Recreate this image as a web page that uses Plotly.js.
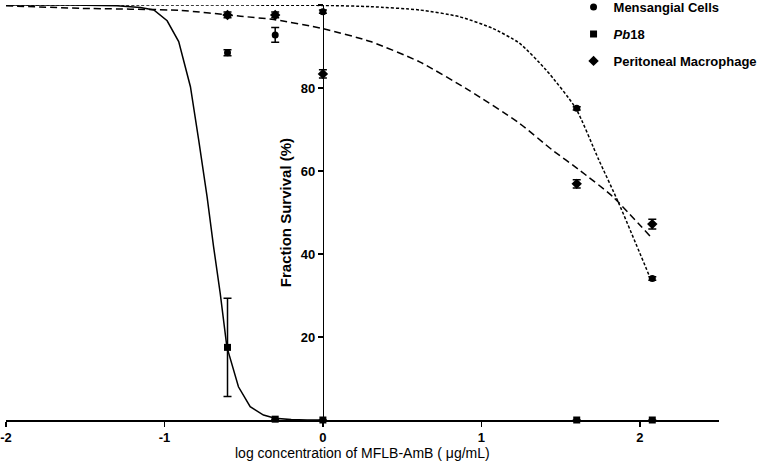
<!DOCTYPE html>
<html>
<head>
<meta charset="utf-8">
<script src="https://cdn.plot.ly/plotly-3.0.1.min.js"></script>
<style>html,body{margin:0;padding:0;background:#fff;}#chart{width:762px;height:463px;}</style>
</head>
<body>
<div id="chart"></div>
<script>
// Measured points (log10 concentration, µg/mL)
const logConc = [-0.602, -0.301, 0, 1.602, 2.079];
const mensangial = [88.5, 92.8, 98.4, 75.1, 34.1];
const mensangialErr = [0.7, 1.8, 0.4, 0.4, 0.4];
const pb18 = [17.5, 0.2, 0, 0, 0];
const pb18Err = [11.85, 0, 0, 0, 0];
const macrophage = [97.6, 97.6, 83.4, 56.9, 47.2];
const macrophageErr = [0.7, 0.7, 1.0, 1.0, 1.2];

// Fitted curves
const pbFitX = [-2, -1.6, -1.3, -1.151, -1.067, -0.983, -0.910, -0.836, -0.784, -0.731, -0.690, -0.648, -0.606, -0.533, -0.459, -0.375, -0.302, -0.2, -0.1, 0];
const pbFitY = [100, 100, 99.8, 99.4, 98.8, 96.2, 91.2, 80.3, 67.5, 53.8, 41.8, 30.5, 17.6, 8.0, 3.2, 1.2, 0.4, 0.1, 0, 0];
const mensFitX = [-2, -1, 0, 0.3, 0.61, 0.86, 1.07, 1.24, 1.41, 1.596, 1.74, 1.87, 2.067];
const mensFitY = [100, 100, 99.9, 99.6, 98.8, 97.2, 94.4, 90.8, 84.3, 75.1, 62.8, 52.0, 34.1];
const macroFitX = [-2, -1.53, -0.90, -0.52, -0.31, 0, 0.30, 0.61, 0.92, 1.24, 1.45, 1.62, 1.83, 2.067];
const macroFitY = [99.8, 99.2, 98.7, 97.3, 96.5, 94.3, 91.2, 86.3, 79.5, 71.5, 65.0, 60.2, 53.8, 44.2];

const yTicks = [20, 40, 60, 80, 100];
const xTicks = [-2, -1, 0, 1, 2];

const FONT = 'Liberation Sans, Arial, sans-serif';
const errStyle = {type: 'data', visible: true, color: '#000', thickness: 1.5, width: 4};

const traces = [
  {x: mensFitX, y: mensFitY, mode: 'lines', line: {color: '#000', width: 1.5, dash: '3px,2px', shape: 'spline', smoothing: 0.6}, showlegend: false, hoverinfo: 'skip', cliponaxis: false},
  {x: pbFitX, y: pbFitY, mode: 'lines', line: {color: '#000', width: 1.5}, showlegend: false, hoverinfo: 'skip', cliponaxis: false},
  {x: macroFitX, y: macroFitY, mode: 'lines', line: {color: '#000', width: 1.5, dash: '7px,4px', shape: 'spline', smoothing: 0.6}, showlegend: false, hoverinfo: 'skip', cliponaxis: false},
  {x: logConc, y: mensangial, name: 'Mensangial Cells', legendgroup: 'a', mode: 'markers',
   marker: {symbol: 'circle', size: 7, color: '#000'}, error_y: Object.assign({array: mensangialErr}, errStyle), cliponaxis: false},
  {x: logConc, y: pb18, name: '<i>Pb</i>18', legendgroup: 'b', mode: 'markers',
   marker: {symbol: 'square', size: 7, color: '#000'}, error_y: Object.assign({array: pb18Err}, errStyle), cliponaxis: false},
  {x: logConc, y: macrophage, name: 'Peritoneal Macrophage', legendgroup: 'c', mode: 'markers',
   marker: {symbol: 'diamond', size: 8, color: '#000'}, error_y: Object.assign({array: macrophageErr}, errStyle), cliponaxis: false}
];

const layout = {
  width: 762, height: 463,
  margin: {l: 6, r: 43, t: 5, b: 43, autoexpand: false},
  paper_bgcolor: '#fff', plot_bgcolor: '#fff',
  font: {family: FONT, color: '#000', size: 12},
  showlegend: true,
  legend: {x: 0.796, y: 1.031, xanchor: 'left', yanchor: 'top', bgcolor: 'rgba(0,0,0,0)',
           font: {family: FONT, size: 13, weight: 'bold', color: '#000'}, traceorder: 'grouped', tracegroupgap: 7},
  xaxis: {range: [-2, 2.5], tickvals: xTicks, ticktext: xTicks.map(String), showgrid: false, zeroline: false,
          showline: true, linecolor: '#000', linewidth: 1.5, ticks: 'outside', ticklen: 5, tickwidth: 1.5, tickcolor: '#000',
          ticklabeloverflow: 'allow',
          tickfont: {family: FONT, size: 13, weight: 'bold', color: '#000'}},
  yaxis: {range: [0, 100], anchor: 'free', position: 2 / 4.5, tickvals: yTicks, ticktext: yTicks.map(String),
          showgrid: false, zeroline: false, showline: true, linecolor: '#000', linewidth: 1.5,
          ticks: 'outside', ticklen: 5, tickwidth: 1.5, tickcolor: '#000',
          tickfont: {family: FONT, size: 13, weight: 'bold', color: '#000'}},
  annotations: [
    {x: -0.235, y: 50, xref: 'x', yref: 'y', text: 'Fraction Survival (%)', textangle: -90, showarrow: false,
     font: {family: FONT, size: 15, weight: 'bold', color: '#000'}},
    {x: 0.25, y: -0.079, xref: 'x', yref: 'paper', yanchor: 'middle', text: 'log concentration of MFLB-AmB ( \u03bcg/mL)', showarrow: false,
     font: {family: FONT, size: 14, color: '#000'}}
  ]
};

Plotly.newPlot('chart', traces, layout, {staticPlot: true, displayModeBar: false});
</script>
</body>
</html>
